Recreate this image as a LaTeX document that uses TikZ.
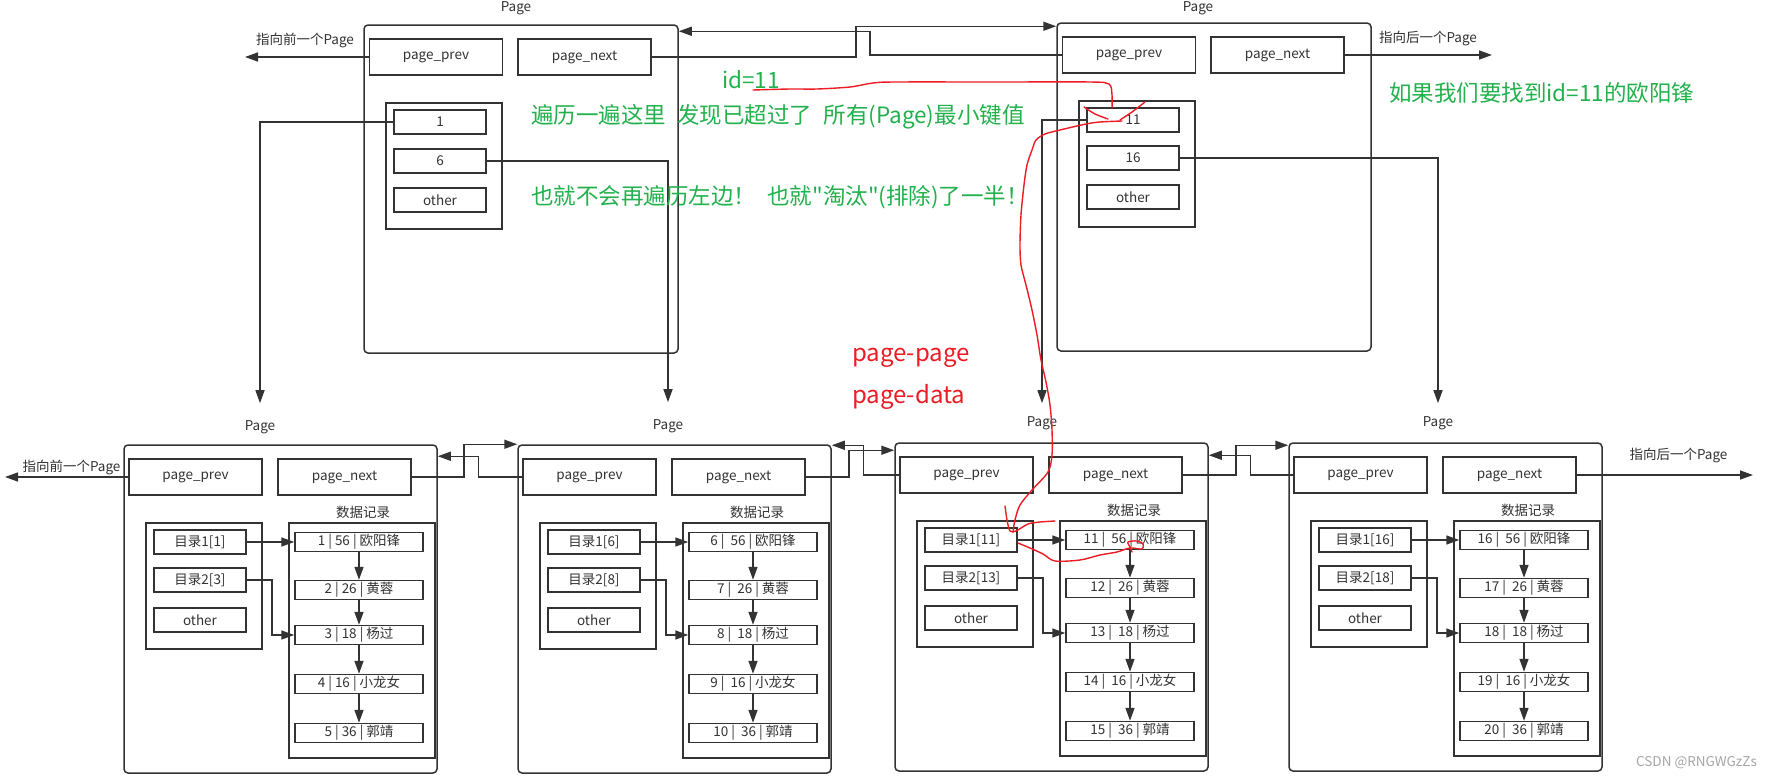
\documentclass[tikz,border=0pt]{standalone}
\usepackage{fontspec}
\setmainfont{Noto Sans CJK SC}
\newfontfamily\notefont{Noto Sans CJK SC}
\usepackage{tikz}
\usetikzlibrary{arrows.meta,calc,positioning}
\definecolor{linegray}{HTML}{333333}
\definecolor{notegreen}{HTML}{22B14C}
\definecolor{notered}{HTML}{ED1C24}
\definecolor{markgray}{HTML}{A6A6A6}

\begin{document}
\begin{tikzpicture}[x=1pt,y=-1pt,
    txt/.style={font=\fontsize{13.5}{15}\selectfont, text=linegray},
    lab/.style={txt, inner sep=0},
    page/.style={draw=linegray, line width=1.5pt, rounded corners=4pt, minimum width=313pt, minimum height=328pt, inner sep=0},
    ptr/.style={txt, draw=linegray, line width=1.5pt, minimum width=133pt, minimum height=36pt, inner sep=0},
    ibox/.style={draw=linegray, line width=1.5pt, minimum width=116pt, minimum height=126pt, inner sep=0},
    entry/.style={txt, draw=linegray, line width=1.5pt, minimum width=92pt, minimum height=24pt, inner sep=0},
    dbox/.style={draw=linegray, line width=1.5pt, minimum width=146pt, minimum height=235pt, inner sep=0},
    row/.style={txt, draw=linegray, line width=1.5pt, minimum width=128pt, minimum height=19pt, inner sep=0},
    link/.style={draw=linegray, line width=1.5pt, -{Triangle[length=13pt,width=9pt]}},
    note/.style={font=\notefont\fontsize{22.5}{26}\selectfont, text=notegreen, anchor=west, inner sep=0},
    rnote/.style={font=\notefont\fontsize{24}{28}\selectfont, text=notered, anchor=west, inner sep=0},
    scrawl/.style={notered, line width=1.4pt, line cap=round, line join=round}]
  \useasboundingbox (0,0) rectangle (1773,779);
  \clip (0,0) rectangle (1773,779);
  \fill[white] (0,0) rectangle (1773,779);

  % top left page (index only)
  \begin{scope}[shift={(364,25)}]
    \node[page, minimum width=314pt] (tl) at (157,164) {};
    \node[lab, anchor=north] (tllab) at (152,-24) {Page};
    \node[ptr] (tlprev) at (72,32) {page\_prev};
    \node[ptr] (tlnext) at (220.5,32) {page\_next};
    \node[ibox] (tlidx) at (80,141) {};
    \node[entry] (tl1) at (76,97) {1};
    \node[entry] (tl6) at (76,136) {6};
    \node[entry] (tlother) at (76,175) {other};
  \end{scope}

  % top right page (index only)
  \begin{scope}[shift={(1057,23)}]
    \node[page, minimum width=314pt] (tr) at (157,164) {};
    \node[lab, anchor=north] (trlab) at (141,-22) {Page};
    \node[ptr] (trprev) at (72,32) {page\_prev};
    \node[ptr] (trnext) at (220.5,32) {page\_next};
    \node[ibox] (tridx) at (80,141) {};
    \node[entry] (tr11) at (76,97) {11};
    \node[entry] (tr16) at (76,135) {16};
    \node[entry] (trother) at (76,174) {other};
  \end{scope}

  % bottom page 1
  \begin{scope}[shift={(124,445)}]
    \node[page] (b1) at (156.5,164) {};
    \node[lab] (b1lab) at (136,-18) {Page};
    \node[ptr] (b1prev) at (71.5,32) {page\_prev};
    \node[ptr] (b1next) at (220.5,32) {page\_next};
    \node[lab] (b1rec) at (239,67) {数据记录};
    \node[ibox] (b1idx) at (80,141) {};
    \node[dbox] (b1data) at (238,195.5) {};
    \node[entry] (b1d1) at (76,97) {目录1[1]};
    \node[entry] (b1d2) at (76,135) {目录2[3]};
    \node[entry] (b1other) at (76,175) {other};
    \node[row] (b1r1) at (235,97) {1 | 56 | 欧阳锋};
    \node[row] (b1r2) at (235,145) {2 | 26 | 黄蓉};
    \node[row] (b1r3) at (235,190) {3 | 18 | 杨过};
    \node[row] (b1r4) at (235,239) {4 | 16 | 小龙女};
    \node[row] (b1r5) at (235,288) {5 | 36 | 郭靖};
  \end{scope}
  \draw[link] (b1d1.east) -- (b1r1.west);
  \draw[link] (b1d2.east) -- ++(25,0) |- (b1r3.west);
  \draw[link] (b1r1.south) -- (b1r2.north);
  \draw[link] (b1r2.south) -- (b1r3.north);
  \draw[link] (b1r3.south) -- (b1r4.north);
  \draw[link] (b1r4.south) -- (b1r5.north);

  % bottom page 2
  \begin{scope}[shift={(518,445)}]
    \node[page] (b2) at (156.5,164) {};
    \node[lab] (b2lab) at (150,-19) {Page};
    \node[ptr] (b2prev) at (71.5,32) {page\_prev};
    \node[ptr] (b2next) at (220.5,32) {page\_next};
    \node[lab] (b2rec) at (239,67) {数据记录};
    \node[ibox] (b2idx) at (80,141) {};
    \node[dbox] (b2data) at (238,195.5) {};
    \node[entry] (b2d1) at (76,97) {目录1[6]};
    \node[entry] (b2d2) at (76,135) {目录2[8]};
    \node[entry] (b2other) at (76,175) {other};
    \node[row] (b2r1) at (235,97) {6 |~ 56 | 欧阳锋};
    \node[row] (b2r2) at (235,145) {7 |~ 26 | 黄蓉};
    \node[row] (b2r3) at (235,190) {8 |~ 18 | 杨过};
    \node[row] (b2r4) at (235,239) {9 |~ 16 | 小龙女};
    \node[row] (b2r5) at (235,288) {10 |~ 36 | 郭靖};
  \end{scope}
  \draw[link] (b2d1.east) -- (b2r1.west);
  \draw[link] (b2d2.east) -- ++(25,0) |- (b2r3.west);
  \draw[link] (b2r1.south) -- (b2r2.north);
  \draw[link] (b2r2.south) -- (b2r3.north);
  \draw[link] (b2r3.south) -- (b2r4.north);
  \draw[link] (b2r4.south) -- (b2r5.north);

  % bottom page 3
  \begin{scope}[shift={(895,443)}]
    \node[page] (b3) at (156.5,164) {};
    \node[lab] (b3lab) at (147,-20) {Page};
    \node[ptr] (b3prev) at (71.5,32) {page\_prev};
    \node[ptr] (b3next) at (220.5,32) {page\_next};
    \node[lab] (b3rec) at (239,67) {数据记录};
    \node[ibox] (b3idx) at (80,141) {};
    \node[dbox] (b3data) at (238,195.5) {};
    \node[entry] (b3d1) at (76,97) {目录1[11]};
    \node[entry] (b3d2) at (76,135) {目录2[13]};
    \node[entry] (b3other) at (76,175) {other};
    \node[row] (b3r1) at (235,97) {11 |~ 56 | 欧阳锋};
    \node[row] (b3r2) at (235,145) {12 |~ 26 | 黄蓉};
    \node[row] (b3r3) at (235,190) {13 |~ 18 | 杨过};
    \node[row] (b3r4) at (235,239) {14 |~ 16 | 小龙女};
    \node[row] (b3r5) at (235,288) {15 |~ 36 | 郭靖};
  \end{scope}
  \draw[link] (b3d1.east) -- (b3r1.west);
  \draw[link] (b3d2.east) -- ++(25,0) |- (b3r3.west);
  \draw[link] (b3r1.south) -- (b3r2.north);
  \draw[link] (b3r2.south) -- (b3r3.north);
  \draw[link] (b3r3.south) -- (b3r4.north);
  \draw[link] (b3r4.south) -- (b3r5.north);

  % bottom page 4
  \begin{scope}[shift={(1289,443)}]
    \node[page] (b4) at (156.5,164) {};
    \node[lab] (b4lab) at (149,-20) {Page};
    \node[ptr] (b4prev) at (71.5,32) {page\_prev};
    \node[ptr] (b4next) at (220.5,32) {page\_next};
    \node[lab] (b4rec) at (239,67) {数据记录};
    \node[ibox] (b4idx) at (80,141) {};
    \node[dbox] (b4data) at (238,195.5) {};
    \node[entry] (b4d1) at (76,97) {目录1[16]};
    \node[entry] (b4d2) at (76,135) {目录2[18]};
    \node[entry] (b4other) at (76,175) {other};
    \node[row] (b4r1) at (235,97) {16 |~ 56 | 欧阳锋};
    \node[row] (b4r2) at (235,145) {17 |~ 26 | 黄蓉};
    \node[row] (b4r3) at (235,190) {18 |~ 18 | 杨过};
    \node[row] (b4r4) at (235,239) {19 |~ 16 | 小龙女};
    \node[row] (b4r5) at (235,288) {20 |~ 36 | 郭靖};
  \end{scope}
  \draw[link] (b4d1.east) -- (b4r1.west);
  \draw[link] (b4d2.east) -- ++(25,0) |- (b4r3.west);
  \draw[link] (b4r1.south) -- (b4r2.north);
  \draw[link] (b4r2.south) -- (b4r3.north);
  \draw[link] (b4r3.south) -- (b4r4.north);
  \draw[link] (b4r4.south) -- (b4r5.north);

  % prev / next pointers between pages
  \draw[link] (tlnext.east) -- ++(204,0) |- ($(tr.north west)+(0,4)$);
  \draw[link] (trprev.west) -- ++(-192,0) |- ($(tl.north east)+(0,7)$);
  \draw[link] (b1next.east) -- ++(52,0) |- (b2.north west);
  \draw[link] (b2prev.west) -- ++(-44,0) |- ($(b1.north east)+(0,12)$);
  \draw[link] (b2next.east) -- ++(43,0) |- ($(b3.north west)+(0,8)$);
  \draw[link] (b3prev.west) -- ++(-36,0) |- ($(b2.north east)+(0,1)$);
  \draw[link] (b3next.east) -- ++(53,0) |- ($(b4.north west)+(0,3)$);
  \draw[link] (b4prev.west) -- ++(-43,0) |- ($(b3.north east)+(0,13)$);

  % outer ends
  \coordinate (tlout) at (245,57);
  \coordinate (trout) at (1492,55);
  \coordinate (b1out) at (5,477);
  \coordinate (b4out) at (1753,475);
  \draw[link] (tlprev.west) -- (tlout);
  \draw[link] (trnext.east) -- (trout);
  \draw[link] (b1prev.west) -- (b1out);
  \draw[link] (b4next.east) -- (b4out);
  \node[lab] (tloutlab) at (305,40) {指向前一个Page};
  \node[lab] (troutlab) at (1428,39) {指向后一个Page};
  \node[lab] (b1outlab) at (71.5,467) {指向前一个Page};
  \node[lab] (b4outlab) at (1678.5,455) {指向后一个Page};

  % index entries down to the pages below
  \draw[link, shorten >=17pt] (tl1.west) -| (b1lab.north);
  \draw[link, shorten >=17pt] (tl6.east) -| (b2lab.north);
  \draw[link, shorten >=13pt] (tr11.west) -| (b3lab.north);
  \draw[link, shorten >=13pt] (tr16.east) -| (b4lab.north);

  % notes
  \node[note] (idnote) at (722,80) {id=11};
  \node[note] (scan) at (531,117) {遍历一遍这里\hspace{.5em}发现已超过了\hspace{.5em}所有(Page)最小键值};
  \node[note] (half) at (531,197) {也就不会再遍历左边！\hspace{.5em}也就"淘汰"(排除)了一半！};
  \node[note] (goal) at (1389,93) {如果我们要找到id=11的欧阳锋};
  \node[rnote] (pp) at (852,358) {page-page};
  \node[rnote] (pd) at (852,397) {page-data};

  % the search path, drawn by hand
  \draw[scrawl] plot[smooth] coordinates {(753,90) (790,89) (817,89) (850,87) (873,83) (895,82) (1000,82) (1090,82) (1109,84) (1112,95) (1112,108)};
  \draw[scrawl] plot[smooth] coordinates {(1084,107) (1095,114) (1108,119)};
  \draw[scrawl] plot[smooth] coordinates {(1145,102) (1132,112) (1120,120)};
  \draw[scrawl] plot[smooth] coordinates {(1122,121) (1100,122) (1086,124) (1060,130) (1045,134) (1036,140) (1032,150) (1027,165) (1024,185) (1021,215) (1020,245) (1021,265) (1026,285) (1032,310) (1037,335) (1041,360) (1046,382) (1050,405) (1052,430) (1052,455) (1048,472) (1032,490) (1020,505) (1015,520) (1013,532)};
  \draw[scrawl] plot[smooth] coordinates {(1005,506) (1007,520) (1010,531) (1016,531) (1028,524) (1040,522) (1055,521)};
  \draw[scrawl] plot[smooth] coordinates {(1018,543) (1030,548) (1043,554) (1055,561) (1080,560) (1100,555) (1117,552) (1130,548) (1142,549) (1143,544) (1137,541) (1128,542) (1130,547) (1132,552)};

  \node[lab, text=markgray, anchor=east] (mark) at (1757,763) {CSDN @RNGWGzZs};
\end{tikzpicture}
\end{document}
